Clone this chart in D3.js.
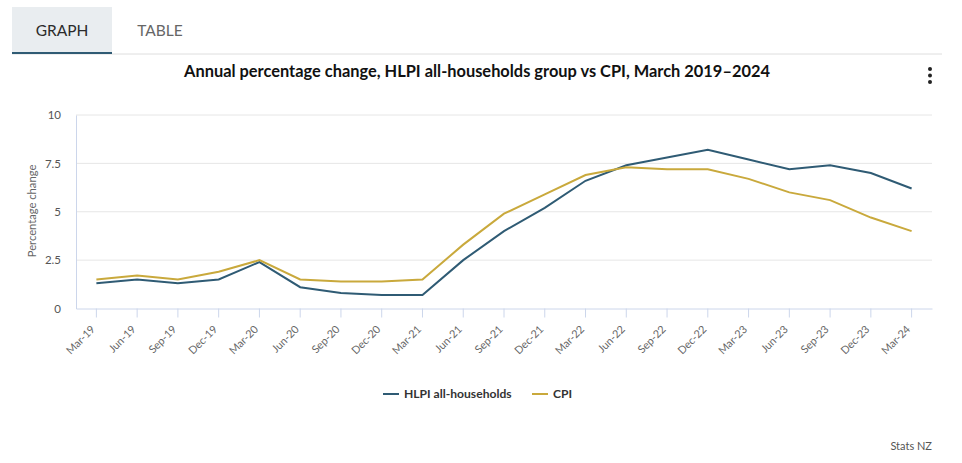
<!DOCTYPE html>
<html lang="en">
    <head>
        <meta charset="utf-8">
        <title>HLPI vs CPI</title>
        <script type="text/javascript" src="https://d3js.org/d3.v7.min.js"></script>
        <style type="text/css">
            body { margin: 0; background-color: #fff; }
            svg { display: block; }
            text { font-family: Lato, "Open Sans", sans-serif; }
        </style>
    </head>
    <body>
        <script type="text/javascript">
            var quarters = ["Mar-19","Jun-19","Sep-19","Dec-19","Mar-20","Jun-20","Sep-20","Dec-20","Mar-21","Jun-21","Sep-21","Dec-21","Mar-22","Jun-22","Sep-22","Dec-22","Mar-23","Jun-23","Sep-23","Dec-23","Mar-24"];
            var hlpiValues = [1.3,1.5,1.3,1.5,2.4,1.1,0.8,0.7,0.7,2.5,4.0,5.2,6.6,7.4,7.8,8.2,7.7,7.2,7.4,7.0,6.2];
            var cpiValues = [1.5,1.7,1.5,1.9,2.5,1.5,1.4,1.4,1.5,3.3,4.9,5.9,6.9,7.3,7.2,7.2,6.7,6.0,5.6,4.7,4.0];
            var yTicks = [0,2.5,5,7.5,10];
            var yTickLabels = ["0","2.5","5","7.5","10"];
            var seriesNames = ["HLPI all-households","CPI"];

            var blue = "#2f5b74";
            var gold = "#c9a93c";
            // note: plain "top" is taken by window.top
            var plotLeft = 76, plotRight = 932, plotTop = 115, plotBottom = 308.5;

            var svg = d3.select("body").append("svg").attr("width", 962).attr("height", 463);

            // tabs
            svg.append("rect").attr("x", 12).attr("y", 7).attr("width", 100).attr("height", 46).attr("fill", "#e9edf0");
            svg.append("line").attr("x1", 12).attr("x2", 942).attr("y1", 54).attr("y2", 54).attr("stroke", "#dedede");
            svg.append("rect").attr("x", 12).attr("y", 52).attr("width", 100).attr("height", 2).attr("fill", blue);
            svg.append("text").attr("x", 62).attr("y", 36).attr("text-anchor", "middle").attr("font-size", 15.5).attr("fill", "#2b2b2b").text("GRAPH");
            svg.append("text").attr("x", 160).attr("y", 36).attr("text-anchor", "middle").attr("font-size", 15.5).attr("fill", "#666").text("TABLE");

            svg.append("text").attr("x", 477).attr("y", 77).attr("text-anchor", "middle")
                .attr("font-size", 16.4).attr("font-weight", 700).attr("fill", "#111")
                .text("Annual percentage change, HLPI all-households group vs CPI, March 2019\u20132024");

            // menu dots
            svg.selectAll(".dot").data([69, 75.5, 82]).enter().append("circle")
                .attr("cx", 930).attr("cy", function (d) { return d; }).attr("r", 2).attr("fill", "#222");

            var x = d3.scaleBand().domain(quarters).range([plotLeft, plotRight]);
            var y = d3.scaleLinear().domain([0, 10]).range([plotBottom, plotTop]);
            var xPos = function (d) { return x(d) + x.bandwidth() / 2; };

            // gridlines
            svg.selectAll(".grid").data(yTicks.slice(1)).enter().append("line")
                .attr("x1", plotLeft).attr("x2", plotRight)
                .attr("y1", function (d) { return y(d); }).attr("y2", function (d) { return y(d); })
                .attr("stroke", "#e6e6e6");

            var xAxis = svg.append("g").attr("transform", "translate(0," + plotBottom + ")")
                .call(d3.axisBottom(x).tickSize(9).tickSizeOuter(0).tickPadding(4));
            xAxis.selectAll("path, line").attr("stroke", "#ccd6eb");
            xAxis.selectAll("text")
                .attr("font-size", 10.8).attr("fill", "#666").attr("font-family", "Lato")
                .attr("text-anchor", "end").attr("transform", "rotate(-45)")
                .attr("x", -15.6).attr("y", 11.3).attr("dy", "0.32em");

            var yAxis = svg.append("g").attr("transform", "translate(" + plotLeft + ",0)")
                .call(d3.axisLeft(y).tickValues(yTicks).tickFormat(function (d, i) { return yTickLabels[i]; }).tickSize(0).tickPadding(15));
            yAxis.select("path").attr("stroke", "#ccd6eb");
            yAxis.selectAll("text").attr("font-size", 11.5).attr("fill", "#555").attr("font-family", "Lato");

            svg.append("text").attr("transform", "translate(36,211) rotate(-90)").attr("text-anchor", "middle")
                .attr("font-size", 11.2).attr("fill", "#666").text("Percentage change");

            var line = d3.line()
                .x(function (d, i) { return xPos(quarters[i]); })
                .y(function (d) { return y(d); });

            svg.append("path").datum(hlpiValues).attr("d", line).attr("fill", "none").attr("stroke", blue).attr("stroke-width", 2);
            svg.append("path").datum(cpiValues).attr("d", line).attr("fill", "none").attr("stroke", gold).attr("stroke-width", 2);

            // legend
            svg.append("line").attr("x1", 383).attr("x2", 399).attr("y1", 394).attr("y2", 394).attr("stroke", blue).attr("stroke-width", 2);
            svg.append("text").attr("x", 404).attr("y", 398).attr("font-size", 12.1).attr("font-weight", 700).attr("fill", "#333").text(seriesNames[0]);
            svg.append("line").attr("x1", 532).attr("x2", 548).attr("y1", 394).attr("y2", 394).attr("stroke", gold).attr("stroke-width", 2);
            svg.append("text").attr("x", 553).attr("y", 398).attr("font-size", 12.1).attr("font-weight", 700).attr("fill", "#333").text(seriesNames[1]);

            svg.append("text").attr("x", 932).attr("y", 450).attr("text-anchor", "end").attr("font-size", 11).attr("fill", "#555").text("Stats NZ");
        </script>
    </body>
</html>
